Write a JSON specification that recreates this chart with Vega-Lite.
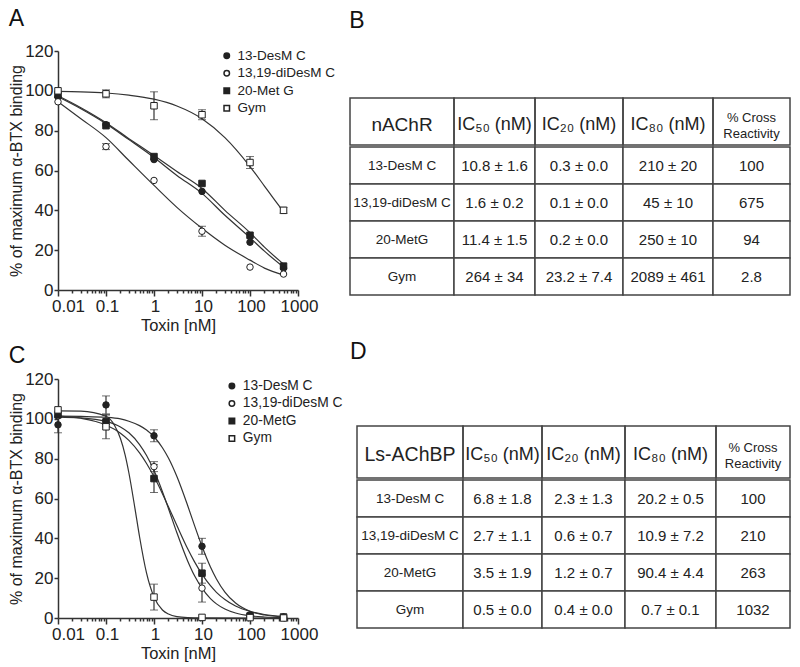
{
  "$schema": "https://vega.github.io/schema/vega-lite/v6.json",
  "background": "white",
  "padding": {"left": 8, "top": 8, "right": 0, "bottom": 0},
  "config": {
    "font": "Liberation Sans",
    "view": {"stroke": null},
    "axis": {"domainColor": "#333", "domainWidth": 1.5, "tickColor": "#333", "tickWidth": 1.5, "labelColor": "#222", "titleColor": "#222", "labelFont": "Liberation Sans", "titleFont": "Liberation Sans", "titleFontWeight": "normal", "grid": false},
    "title": {"fontWeight": "normal", "fontSize": 23, "color": "#111", "anchor": "start", "font": "Liberation Sans"},
    "legend": {"labelColor": "#222", "labelFont": "Liberation Sans"}
  },
  "datasets": {
    "ptsA": [
      {"series": "13-DesM C", "x": 0.01, "y": 97, "err": 0},
      {"series": "13-DesM C", "x": 0.1, "y": 83, "err": 0},
      {"series": "13-DesM C", "x": 1, "y": 65.5, "err": 0},
      {"series": "13-DesM C", "x": 10, "y": 49.5, "err": 0},
      {"series": "13-DesM C", "x": 100, "y": 24, "err": 0},
      {"series": "13-DesM C", "x": 500, "y": 11, "err": 0},
      {"series": "13,19-diDesM C", "x": 0.01, "y": 94.5, "err": 0},
      {"series": "13,19-diDesM C", "x": 0.1, "y": 72, "err": 1.5},
      {"series": "13,19-diDesM C", "x": 1, "y": 55, "err": 0},
      {"series": "13,19-diDesM C", "x": 10, "y": 29.5, "err": 2.5},
      {"series": "13,19-diDesM C", "x": 100, "y": 11.5, "err": 0},
      {"series": "13,19-diDesM C", "x": 500, "y": 8, "err": 0},
      {"series": "20-Met G", "x": 0.01, "y": 98, "err": 0},
      {"series": "20-Met G", "x": 0.1, "y": 82.5, "err": 0},
      {"series": "20-Met G", "x": 1, "y": 67, "err": 0},
      {"series": "20-Met G", "x": 10, "y": 53.5, "err": 0},
      {"series": "20-Met G", "x": 100, "y": 27.5, "err": 0},
      {"series": "20-Met G", "x": 500, "y": 12, "err": 0},
      {"series": "Gym", "x": 0.01, "y": 100, "err": 0},
      {"series": "Gym", "x": 0.1, "y": 98.5, "err": 2},
      {"series": "Gym", "x": 1, "y": 92.5, "err": 7},
      {"series": "Gym", "x": 10, "y": 88, "err": 2.5},
      {"series": "Gym", "x": 100, "y": 64, "err": 3},
      {"series": "Gym", "x": 500, "y": 40, "err": 1.5}
    ],
    "curvesA": [
      {"series": "13-DesM C", "x": 0.01, "y": 97},
      {"series": "13-DesM C", "x": 0.03, "y": 91},
      {"series": "13-DesM C", "x": 0.1, "y": 83.5},
      {"series": "13-DesM C", "x": 0.3, "y": 75.5},
      {"series": "13-DesM C", "x": 1, "y": 66.5},
      {"series": "13-DesM C", "x": 3, "y": 57.5},
      {"series": "13-DesM C", "x": 10, "y": 48.5},
      {"series": "13-DesM C", "x": 30, "y": 37.5},
      {"series": "13-DesM C", "x": 100, "y": 26.3},
      {"series": "13-DesM C", "x": 200, "y": 19.5},
      {"series": "13-DesM C", "x": 500, "y": 11.5},
      {"series": "20-Met G", "x": 0.01, "y": 97.5},
      {"series": "20-Met G", "x": 0.03, "y": 91.5},
      {"series": "20-Met G", "x": 0.1, "y": 84},
      {"series": "20-Met G", "x": 0.3, "y": 76},
      {"series": "20-Met G", "x": 1, "y": 67.5},
      {"series": "20-Met G", "x": 3, "y": 59.5},
      {"series": "20-Met G", "x": 10, "y": 51},
      {"series": "20-Met G", "x": 30, "y": 40},
      {"series": "20-Met G", "x": 100, "y": 28.8},
      {"series": "20-Met G", "x": 200, "y": 21.5},
      {"series": "20-Met G", "x": 500, "y": 13},
      {"series": "13,19-diDesM C", "x": 0.01, "y": 94.5},
      {"series": "13,19-diDesM C", "x": 0.03, "y": 86},
      {"series": "13,19-diDesM C", "x": 0.1, "y": 76.5},
      {"series": "13,19-diDesM C", "x": 0.3, "y": 65},
      {"series": "13,19-diDesM C", "x": 1, "y": 52.5},
      {"series": "13,19-diDesM C", "x": 3, "y": 41.5},
      {"series": "13,19-diDesM C", "x": 10, "y": 31},
      {"series": "13,19-diDesM C", "x": 30, "y": 22.5},
      {"series": "13,19-diDesM C", "x": 100, "y": 15},
      {"series": "13,19-diDesM C", "x": 200, "y": 11},
      {"series": "13,19-diDesM C", "x": 500, "y": 7.5},
      {"series": "Gym", "x": 0.01, "y": 99.7},
      {"series": "Gym", "x": 0.03, "y": 99.5},
      {"series": "Gym", "x": 0.1, "y": 98.9},
      {"series": "Gym", "x": 0.3, "y": 97.8},
      {"series": "Gym", "x": 1, "y": 95.8},
      {"series": "Gym", "x": 3, "y": 92.4},
      {"series": "Gym", "x": 10, "y": 86},
      {"series": "Gym", "x": 30, "y": 76.5},
      {"series": "Gym", "x": 100, "y": 62},
      {"series": "Gym", "x": 200, "y": 52.2},
      {"series": "Gym", "x": 300, "y": 46.4},
      {"series": "Gym", "x": 500, "y": 39.3}
    ],
    "ptsC": [
      {"series": "13-DesM C", "x": 0.01, "y": 97, "err": 4},
      {"series": "13-DesM C", "x": 0.1, "y": 107, "err": 4.5},
      {"series": "13-DesM C", "x": 1, "y": 91.5, "err": 3},
      {"series": "13-DesM C", "x": 10, "y": 36, "err": 4},
      {"series": "13-DesM C", "x": 100, "y": 1.5, "err": 0},
      {"series": "13-DesM C", "x": 500, "y": 0.5, "err": 0},
      {"series": "13,19-diDesM C", "x": 0.01, "y": 101.5, "err": 0},
      {"series": "13,19-diDesM C", "x": 0.1, "y": 99, "err": 3},
      {"series": "13,19-diDesM C", "x": 1, "y": 76, "err": 2.5},
      {"series": "13,19-diDesM C", "x": 10, "y": 15, "err": 7},
      {"series": "13,19-diDesM C", "x": 100, "y": 1, "err": 0},
      {"series": "13,19-diDesM C", "x": 500, "y": 0.3, "err": 0},
      {"series": "20-MetG", "x": 0.01, "y": 102, "err": 0},
      {"series": "20-MetG", "x": 0.1, "y": 98.5, "err": 0},
      {"series": "20-MetG", "x": 1, "y": 70, "err": 7},
      {"series": "20-MetG", "x": 10, "y": 22.5, "err": 5},
      {"series": "20-MetG", "x": 100, "y": 1, "err": 0},
      {"series": "20-MetG", "x": 500, "y": 0.5, "err": 0},
      {"series": "Gym", "x": 0.01, "y": 104.5, "err": 0},
      {"series": "Gym", "x": 0.1, "y": 96, "err": 6},
      {"series": "Gym", "x": 1, "y": 10.5, "err": 6.5},
      {"series": "Gym", "x": 10, "y": 0.3, "err": 0},
      {"series": "Gym", "x": 100, "y": 0.2, "err": 0},
      {"series": "Gym", "x": 500, "y": 0, "err": 0}
    ],
    "curvesC": [
      {"series": "13-DesM C", "x": 0.01, "y": 101.4},
      {"series": "13-DesM C", "x": 0.03, "y": 101.2},
      {"series": "13-DesM C", "x": 0.1, "y": 100.8},
      {"series": "13-DesM C", "x": 0.2, "y": 100},
      {"series": "13-DesM C", "x": 0.3, "y": 98.8},
      {"series": "13-DesM C", "x": 0.5, "y": 96.6},
      {"series": "13-DesM C", "x": 0.7, "y": 94.4},
      {"series": "13-DesM C", "x": 1, "y": 91},
      {"series": "13-DesM C", "x": 1.5, "y": 85.5},
      {"series": "13-DesM C", "x": 2, "y": 80.3},
      {"series": "13-DesM C", "x": 3, "y": 71},
      {"series": "13-DesM C", "x": 5, "y": 56.6},
      {"series": "13-DesM C", "x": 7, "y": 46.4},
      {"series": "13-DesM C", "x": 10, "y": 36},
      {"series": "13-DesM C", "x": 15, "y": 25.6},
      {"series": "13-DesM C", "x": 20, "y": 19.6},
      {"series": "13-DesM C", "x": 30, "y": 13},
      {"series": "13-DesM C", "x": 50, "y": 7.5},
      {"series": "13-DesM C", "x": 100, "y": 3.4},
      {"series": "13-DesM C", "x": 200, "y": 1.5},
      {"series": "13-DesM C", "x": 500, "y": 0.5},
      {"series": "13,19-diDesM C", "x": 0.01, "y": 100.9},
      {"series": "13,19-diDesM C", "x": 0.03, "y": 100.5},
      {"series": "13,19-diDesM C", "x": 0.1, "y": 98.7},
      {"series": "13,19-diDesM C", "x": 0.2, "y": 95.9},
      {"series": "13,19-diDesM C", "x": 0.3, "y": 93},
      {"series": "13,19-diDesM C", "x": 0.5, "y": 87.1},
      {"series": "13,19-diDesM C", "x": 0.7, "y": 81.6},
      {"series": "13,19-diDesM C", "x": 1, "y": 74},
      {"series": "13,19-diDesM C", "x": 1.5, "y": 63.4},
      {"series": "13,19-diDesM C", "x": 2, "y": 55},
      {"series": "13,19-diDesM C", "x": 3, "y": 42.8},
      {"series": "13,19-diDesM C", "x": 5, "y": 28.8},
      {"series": "13,19-diDesM C", "x": 7, "y": 21.2},
      {"series": "13,19-diDesM C", "x": 10, "y": 15},
      {"series": "13,19-diDesM C", "x": 15, "y": 9.7},
      {"series": "13,19-diDesM C", "x": 20, "y": 7.1},
      {"series": "13,19-diDesM C", "x": 30, "y": 4.5},
      {"series": "13,19-diDesM C", "x": 50, "y": 2.5},
      {"series": "13,19-diDesM C", "x": 100, "y": 1.1},
      {"series": "13,19-diDesM C", "x": 200, "y": 0.5},
      {"series": "13,19-diDesM C", "x": 500, "y": 0.2},
      {"series": "20-MetG", "x": 0.01, "y": 101.4},
      {"series": "20-MetG", "x": 0.03, "y": 100.3},
      {"series": "20-MetG", "x": 0.1, "y": 96.9},
      {"series": "20-MetG", "x": 0.2, "y": 92.8},
      {"series": "20-MetG", "x": 0.3, "y": 89.2},
      {"series": "20-MetG", "x": 0.5, "y": 82.9},
      {"series": "20-MetG", "x": 0.7, "y": 77.6},
      {"series": "20-MetG", "x": 1, "y": 71},
      {"series": "20-MetG", "x": 1.5, "y": 62.4},
      {"series": "20-MetG", "x": 2, "y": 55.8},
      {"series": "20-MetG", "x": 3, "y": 46.4},
      {"series": "20-MetG", "x": 5, "y": 34.9},
      {"series": "20-MetG", "x": 7, "y": 28.2},
      {"series": "20-MetG", "x": 10, "y": 22},
      {"series": "20-MetG", "x": 15, "y": 16.2},
      {"series": "20-MetG", "x": 20, "y": 12.9},
      {"series": "20-MetG", "x": 30, "y": 9.3},
      {"series": "20-MetG", "x": 50, "y": 6},
      {"series": "20-MetG", "x": 100, "y": 3.3},
      {"series": "20-MetG", "x": 200, "y": 1.75},
      {"series": "20-MetG", "x": 500, "y": 0.8},
      {"series": "Gym", "x": 0.01, "y": 104},
      {"series": "Gym", "x": 0.03, "y": 103.9},
      {"series": "Gym", "x": 0.1, "y": 101.3},
      {"series": "Gym", "x": 0.15, "y": 96.8},
      {"series": "Gym", "x": 0.2, "y": 90.1},
      {"series": "Gym", "x": 0.25, "y": 81.9},
      {"series": "Gym", "x": 0.3, "y": 72.8},
      {"series": "Gym", "x": 0.4, "y": 55.2},
      {"series": "Gym", "x": 0.5, "y": 40.8},
      {"series": "Gym", "x": 0.7, "y": 22.5},
      {"series": "Gym", "x": 1, "y": 10.5},
      {"series": "Gym", "x": 1.5, "y": 4},
      {"series": "Gym", "x": 2, "y": 2},
      {"series": "Gym", "x": 3, "y": 0.7},
      {"series": "Gym", "x": 5, "y": 0.2},
      {"series": "Gym", "x": 10, "y": 0.05},
      {"series": "Gym", "x": 100, "y": 0},
      {"series": "Gym", "x": 500, "y": 0}
    ],
    "tabB": [
      {"compound": "13-DesM C", "ic50": "10.8 ± 1.6", "ic20": "0.3 ± 0.0", "ic80": "210 ± 20", "cross": "100"},
      {"compound": "13,19-diDesM C", "ic50": "1.6 ± 0.2", "ic20": "0.1 ± 0.0", "ic80": "45 ± 10", "cross": "675"},
      {"compound": "20-MetG", "ic50": "11.4 ± 1.5", "ic20": "0.2 ± 0.0", "ic80": "250 ± 10", "cross": "94"},
      {"compound": "Gym", "ic50": "264 ± 34", "ic20": "23.2 ± 7.4", "ic80": "2089 ± 461", "cross": "2.8"}
    ],
    "tabD": [
      {"compound": "13-DesM C", "ic50": "6.8 ± 1.8", "ic20": "2.3 ± 1.3", "ic80": "20.2 ± 0.5", "cross": "100"},
      {"compound": "13,19-diDesM C", "ic50": "2.7 ± 1.1", "ic20": "0.6 ± 0.7", "ic80": "10.9 ± 7.2", "cross": "210"},
      {"compound": "20-MetG", "ic50": "3.5 ± 1.9", "ic20": "1.2 ± 0.7", "ic80": "90.4 ± 4.4", "cross": "263"},
      {"compound": "Gym", "ic50": "0.5 ± 0.0", "ic20": "0.4 ± 0.0", "ic80": "0.7 ± 0.1", "cross": "1032"}
    ]
  },
  "resolve": {"scale": {"shape": "independent", "fill": "independent", "stroke": "independent"}, "legend": {"shape": "independent", "fill": "independent", "stroke": "independent"}},
  "spacing": 6,
  "hconcat": [
    {
      "resolve": {"scale": {"shape": "independent", "fill": "independent", "stroke": "independent"}, "legend": {"shape": "independent", "fill": "independent", "stroke": "independent"}},
      "spacing": 11,
      "vconcat": [
        {
          "title": {"text": "A", "offset": 11},
          "width": 240,
          "height": 239,
          "encoding": {
            "x": {"field": "x", "type": "quantitative", "scale": {"type": "log", "domain": [0.01, 1000]},
              "axis": {"title": "Toxin [nM]", "values": [0.01,0.02,0.03,0.04,0.05,0.06,0.07,0.08,0.09,0.1,0.2,0.3,0.4,0.5,0.6,0.7,0.8,0.9,1,2,3,4,5,6,7,8,9,10,20,30,40,50,60,70,80,90,100,200,300,400,500,600,700,800,900,1000],
                "labelExpr": "datum.value==0.01?'0.01':datum.value==0.1?'0.1':datum.value==1?'1':datum.value==10?'10':datum.value==100?'100':datum.value==1000?'1000':''",
                "tickSize": {"condition": {"test": "indexof([0.01,0.1,1,10,100,1000], datum.value) >= 0", "value": 6}, "value": 3},
                "labelOffset": {"condition": {"test": "datum.value == 0.01", "value": 10}, "value": 1},
                "labelFlush": false, "labelOverlap": false, "labelFontSize": 17, "labelPadding": 2, "titlePadding": 3, "titleFontSize": 16.5}},
            "y": {"field": "y", "type": "quantitative", "scale": {"domain": [0, 120]},
              "axis": {"title": "% of maximum α-BTX binding", "values": [0,20,40,60,80,100,120], "tickSize": 4, "labelPadding": 1, "labelFontSize": 17, "titleFontSize": 16, "titlePadding": 0, "labelFlush": false}}
          },
          "layer": [
            {"data": {"name": "curvesA"}, "mark": {"type": "line", "interpolate": "monotone", "color": "#333", "strokeWidth": 1.2}, "encoding": {"detail": {"field": "series"}}},
            {"data": {"name": "ptsA"}, "transform": [{"filter": "datum.err > 0"}], "mark": {"type": "errorbar", "ticks": {"size": 8, "color": "#333", "strokeWidth": 1.2}, "rule": {"color": "#333", "strokeWidth": 1.2}}, "encoding": {"yError": {"field": "err"}}},
            {"data": {"name": "ptsA"}, "mark": {"type": "point", "filled": true, "size": 42, "strokeWidth": 1, "opacity": 1},
              "encoding": {
                "shape": {"field": "series", "type": "nominal", "title": null, "scale": {"domain": ["13-DesM C", "13,19-diDesM C", "20-Met G", "Gym"], "range": ["circle", "circle", "square", "square"]},
                  "legend": {"orient": "none", "legendX": 162, "legendY": -2, "labelFontSize": 13.5, "symbolSize": 30, "rowPadding": 2.5, "labelOffset": 4, "padding": 0}},
                "fill": {"field": "series", "type": "nominal", "title": null, "scale": {"domain": ["13-DesM C", "13,19-diDesM C", "20-Met G", "Gym"], "range": ["#222", "white", "#222", "white"]},
                  "legend": {"orient": "none", "legendX": 162, "legendY": -2, "labelFontSize": 13.5, "symbolSize": 30, "rowPadding": 2.5, "labelOffset": 4, "padding": 0}},
                "stroke": {"field": "series", "type": "nominal", "title": null, "scale": {"domain": ["13-DesM C", "13,19-diDesM C", "20-Met G", "Gym"], "range": ["#222", "#222", "#222", "#222"]},
                  "legend": {"orient": "none", "legendX": 162, "legendY": -2, "labelFontSize": 13.5, "symbolSize": 30, "rowPadding": 2.5, "labelOffset": 4, "padding": 0}}
              }}
          ]
        },
        {
          "title": {"text": "C", "offset": 2},
          "width": 240,
          "height": 239,
          "encoding": {
            "x": {"field": "x", "type": "quantitative", "scale": {"type": "log", "domain": [0.01, 1000]},
              "axis": {"title": "Toxin [nM]", "values": [0.01,0.02,0.03,0.04,0.05,0.06,0.07,0.08,0.09,0.1,0.2,0.3,0.4,0.5,0.6,0.7,0.8,0.9,1,2,3,4,5,6,7,8,9,10,20,30,40,50,60,70,80,90,100,200,300,400,500,600,700,800,900,1000],
                "labelExpr": "datum.value==0.01?'0.01':datum.value==0.1?'0.1':datum.value==1?'1':datum.value==10?'10':datum.value==100?'100':datum.value==1000?'1000':''",
                "tickSize": {"condition": {"test": "indexof([0.01,0.1,1,10,100,1000], datum.value) >= 0", "value": 6}, "value": 3},
                "labelOffset": {"condition": {"test": "datum.value == 0.01", "value": 10}, "value": 1},
                "labelFlush": false, "labelOverlap": false, "labelFontSize": 17, "labelPadding": 2, "titlePadding": 3, "titleFontSize": 16.5}},
            "y": {"field": "y", "type": "quantitative", "scale": {"domain": [0, 120]},
              "axis": {"title": "% of maximum α-BTX binding", "values": [0,20,40,60,80,100,120], "tickSize": 4, "labelPadding": 1, "labelFontSize": 17, "titleFontSize": 16, "titlePadding": 0, "labelFlush": false}}
          },
          "layer": [
            {"data": {"name": "curvesC"}, "mark": {"type": "line", "interpolate": "monotone", "color": "#333", "strokeWidth": 1.2}, "encoding": {"detail": {"field": "series"}}},
            {"data": {"name": "ptsC"}, "transform": [{"filter": "datum.err > 0"}], "mark": {"type": "errorbar", "ticks": {"size": 8, "color": "#333", "strokeWidth": 1.2}, "rule": {"color": "#333", "strokeWidth": 1.2}}, "encoding": {"yError": {"field": "err"}}},
            {"data": {"name": "ptsC"}, "mark": {"type": "point", "filled": true, "size": 42, "strokeWidth": 1, "opacity": 1},
              "encoding": {
                "shape": {"field": "series", "type": "nominal", "title": null, "scale": {"domain": ["13-DesM C", "13,19-diDesM C", "20-MetG", "Gym"], "range": ["circle", "circle", "square", "square"]},
                  "legend": {"orient": "none", "legendX": 167, "legendY": 0, "labelFontSize": 13.8, "symbolSize": 30, "rowPadding": 2.5, "labelOffset": 4, "padding": 0}},
                "fill": {"field": "series", "type": "nominal", "title": null, "scale": {"domain": ["13-DesM C", "13,19-diDesM C", "20-MetG", "Gym"], "range": ["#222", "white", "#222", "white"]},
                  "legend": {"orient": "none", "legendX": 167, "legendY": 0, "labelFontSize": 13.8, "symbolSize": 30, "rowPadding": 2.5, "labelOffset": 4, "padding": 0}},
                "stroke": {"field": "series", "type": "nominal", "title": null, "scale": {"domain": ["13-DesM C", "13,19-diDesM C", "20-MetG", "Gym"], "range": ["#222", "#222", "#222", "#222"]},
                  "legend": {"orient": "none", "legendX": 167, "legendY": 0, "labelFontSize": 13.8, "symbolSize": 30, "rowPadding": 2.5, "labelOffset": 4, "padding": 0}}
              }}
          ]
        }
      ]
    },
    {
      "spacing": 45,
      "vconcat": [
        {
          "title": {"text": "B", "offset": 18},
          "spacing": 0,
          "vconcat": [
            {"width": 440, "height": 46, "data": {"values": [{}]}, "mark": {"type": "text", "text": " "}, "encoding": {}},
            {"bounds": "flush", "spacing": 0, "hconcat": [
              {"width": 104, "height": 47, "view": {"stroke": "#444", "strokeWidth": 1.5}, "data": {"values": [{"t": "nAChR"}]}, "mark": {"type": "text", "fontSize": 19, "color": "#222", "dy": 3}, "encoding": {"text": {"field": "t"}}},
              {"width": 81, "height": 47, "view": {"stroke": "#444", "strokeWidth": 1.5}, "data": {"values": [{"t": "IC₅₀ (nM)"}]}, "mark": {"type": "text", "fontSize": 18, "color": "#222", "dy": 3}, "encoding": {"text": {"field": "t"}}},
              {"width": 88, "height": 47, "view": {"stroke": "#444", "strokeWidth": 1.5}, "data": {"values": [{"t": "IC₂₀ (nM)"}]}, "mark": {"type": "text", "fontSize": 18, "color": "#222", "dy": 3}, "encoding": {"text": {"field": "t"}}},
              {"width": 90, "height": 47, "view": {"stroke": "#444", "strokeWidth": 1.5}, "data": {"values": [{"t": "IC₈₀ (nM)"}]}, "mark": {"type": "text", "fontSize": 18, "color": "#222", "dy": 3}, "encoding": {"text": {"field": "t"}}},
              {"width": 77, "height": 47, "view": {"stroke": "#444", "strokeWidth": 1.5}, "data": {"values": [{"t": "% Cross\nReactivity"}]}, "mark": {"type": "text", "fontSize": 13, "color": "#222", "lineBreak": "\n", "lineHeight": 16, "dy": -4}, "encoding": {"text": {"field": "t"}}}
            ]},
            {"bounds": "flush", "spacing": 0, "hconcat": [
              {"width": 104, "height": 148, "data": {"name": "tabB"}, "encoding": {"y": {"field": "compound", "type": "nominal", "sort": null, "axis": null, "scale": {"paddingInner": 0, "paddingOuter": 0}}},
                "layer": [{"mark": {"type": "rect", "fill": "white", "stroke": "#444", "strokeWidth": 1.5}}, {"mark": {"type": "text", "fontSize": 13.5, "color": "#222"}, "encoding": {"text": {"field": "compound"}}}]},
              {"width": 81, "height": 148, "data": {"name": "tabB"}, "encoding": {"y": {"field": "compound", "type": "nominal", "sort": null, "axis": null, "scale": {"paddingInner": 0, "paddingOuter": 0}}},
                "layer": [{"mark": {"type": "rect", "fill": "white", "stroke": "#444", "strokeWidth": 1.5}}, {"mark": {"type": "text", "fontSize": 15, "color": "#222"}, "encoding": {"text": {"field": "ic50"}}}]},
              {"width": 88, "height": 148, "data": {"name": "tabB"}, "encoding": {"y": {"field": "compound", "type": "nominal", "sort": null, "axis": null, "scale": {"paddingInner": 0, "paddingOuter": 0}}},
                "layer": [{"mark": {"type": "rect", "fill": "white", "stroke": "#444", "strokeWidth": 1.5}}, {"mark": {"type": "text", "fontSize": 15, "color": "#222"}, "encoding": {"text": {"field": "ic20"}}}]},
              {"width": 90, "height": 148, "data": {"name": "tabB"}, "encoding": {"y": {"field": "compound", "type": "nominal", "sort": null, "axis": null, "scale": {"paddingInner": 0, "paddingOuter": 0}}},
                "layer": [{"mark": {"type": "rect", "fill": "white", "stroke": "#444", "strokeWidth": 1.5}}, {"mark": {"type": "text", "fontSize": 15, "color": "#222"}, "encoding": {"text": {"field": "ic80"}}}]},
              {"width": 77, "height": 148, "data": {"name": "tabB"}, "encoding": {"y": {"field": "compound", "type": "nominal", "sort": null, "axis": null, "scale": {"paddingInner": 0, "paddingOuter": 0}}},
                "layer": [{"mark": {"type": "rect", "fill": "white", "stroke": "#444", "strokeWidth": 1.5}}, {"mark": {"type": "text", "fontSize": 15, "color": "#222"}, "encoding": {"text": {"field": "cross"}}}]}
            ]}
          ]
        },
        {
          "title": {"text": "D", "offset": 61},
          "spacing": 0,
          "hconcat": [
            {"width": 6, "height": 46, "data": {"values": [{}]}, "mark": {"type": "text", "text": " "}, "encoding": {}},
            {
              "spacing": 0,
              "vconcat": [
                {"bounds": "flush", "spacing": 0, "hconcat": [
                  {"width": 106, "height": 52, "view": {"stroke": "#444", "strokeWidth": 1.5}, "data": {"values": [{"t": "Ls-AChBP"}]}, "mark": {"type": "text", "fontSize": 19.5, "color": "#222", "dy": 3}, "encoding": {"text": {"field": "t"}}},
                  {"width": 79, "height": 52, "view": {"stroke": "#444", "strokeWidth": 1.5}, "data": {"values": [{"t": "IC₅₀ (nM)"}]}, "mark": {"type": "text", "fontSize": 18, "color": "#222", "dy": 3}, "encoding": {"text": {"field": "t"}}},
                  {"width": 83, "height": 52, "view": {"stroke": "#444", "strokeWidth": 1.5}, "data": {"values": [{"t": "IC₂₀ (nM)"}]}, "mark": {"type": "text", "fontSize": 18, "color": "#222", "dy": 3}, "encoding": {"text": {"field": "t"}}},
                  {"width": 91, "height": 52, "view": {"stroke": "#444", "strokeWidth": 1.5}, "data": {"values": [{"t": "IC₈₀ (nM)"}]}, "mark": {"type": "text", "fontSize": 18, "color": "#222", "dy": 3}, "encoding": {"text": {"field": "t"}}},
                  {"width": 74, "height": 52, "view": {"stroke": "#444", "strokeWidth": 1.5}, "data": {"values": [{"t": "% Cross\nReactivity"}]}, "mark": {"type": "text", "fontSize": 13, "color": "#222", "lineBreak": "\n", "lineHeight": 16, "dy": -4}, "encoding": {"text": {"field": "t"}}}
                ]},
                {"bounds": "flush", "spacing": 0, "hconcat": [
                  {"width": 106, "height": 148, "data": {"name": "tabD"}, "encoding": {"y": {"field": "compound", "type": "nominal", "sort": null, "axis": null, "scale": {"paddingInner": 0, "paddingOuter": 0}}},
                    "layer": [{"mark": {"type": "rect", "fill": "white", "stroke": "#444", "strokeWidth": 1.5}}, {"mark": {"type": "text", "fontSize": 13.5, "color": "#222"}, "encoding": {"text": {"field": "compound"}}}]},
                  {"width": 79, "height": 148, "data": {"name": "tabD"}, "encoding": {"y": {"field": "compound", "type": "nominal", "sort": null, "axis": null, "scale": {"paddingInner": 0, "paddingOuter": 0}}},
                    "layer": [{"mark": {"type": "rect", "fill": "white", "stroke": "#444", "strokeWidth": 1.5}}, {"mark": {"type": "text", "fontSize": 15, "color": "#222"}, "encoding": {"text": {"field": "ic50"}}}]},
                  {"width": 83, "height": 148, "data": {"name": "tabD"}, "encoding": {"y": {"field": "compound", "type": "nominal", "sort": null, "axis": null, "scale": {"paddingInner": 0, "paddingOuter": 0}}},
                    "layer": [{"mark": {"type": "rect", "fill": "white", "stroke": "#444", "strokeWidth": 1.5}}, {"mark": {"type": "text", "fontSize": 15, "color": "#222"}, "encoding": {"text": {"field": "ic20"}}}]},
                  {"width": 91, "height": 148, "data": {"name": "tabD"}, "encoding": {"y": {"field": "compound", "type": "nominal", "sort": null, "axis": null, "scale": {"paddingInner": 0, "paddingOuter": 0}}},
                    "layer": [{"mark": {"type": "rect", "fill": "white", "stroke": "#444", "strokeWidth": 1.5}}, {"mark": {"type": "text", "fontSize": 15, "color": "#222"}, "encoding": {"text": {"field": "ic80"}}}]},
                  {"width": 74, "height": 148, "data": {"name": "tabD"}, "encoding": {"y": {"field": "compound", "type": "nominal", "sort": null, "axis": null, "scale": {"paddingInner": 0, "paddingOuter": 0}}},
                    "layer": [{"mark": {"type": "rect", "fill": "white", "stroke": "#444", "strokeWidth": 1.5}}, {"mark": {"type": "text", "fontSize": 15, "color": "#222"}, "encoding": {"text": {"field": "cross"}}}]}
                ]}
              ]
            }
          ]
        }
      ]
    }
  ]
}
